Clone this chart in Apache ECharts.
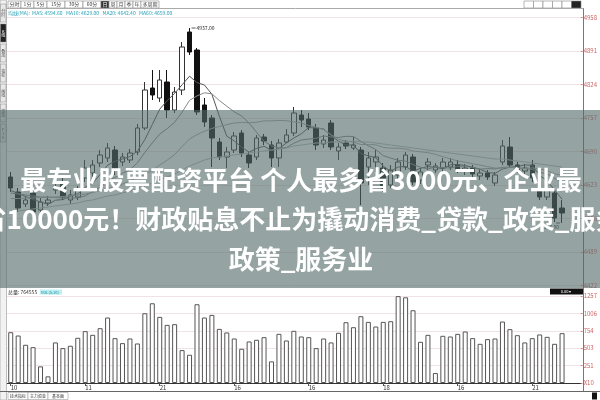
<!DOCTYPE html>
<html><head><meta charset="utf-8">
<script src="https://cdn.jsdelivr.net/npm/echarts@6/dist/echarts.min.js"></script>
<style>html,body{margin:0;padding:0;background:#fff}#c{width:600px;height:400px}</style>
</head><body><div id="c"></div>
<script>
// ---- data ----
const tickLabels = ['10','11','21','16','16','18','16','21'];
const openP = [4639,4609,4585,4607,4573,4587,4613,4627,4593,4599, 4637,4647,4667,4677,4693,4669,4673,4689,4737,4817, 4797,4829,4773,4813,4929,4893,4783,4757,4709,4679, 4693,4727,4683,4679,4719,4703,4677,4709,4727,4763, 4755,4737,4705,4747,4691,4707,4697,4693,4659,4669, 4657,4623,4643,4659,4679,4633,4663,4653,4657,4659, 4663,4653,4657,4641,4647,4627,4669,4699,4663,4651, 4663,4613,4599,4607,4577];
const closeP = [4617,4577,4593,4569,4589,4593,4619,4599,4603,4613, 4657,4663,4683,4697,4653,4679,4687,4737,4813,4803, 4833,4773,4809,4899,4889,4769,4749,4717,4679,4689, 4721,4687,4667,4717,4711,4677,4707,4723,4767,4753, 4739,4703,4713,4699,4699,4701,4703,4627,4677,4679, 4617,4653,4669,4683,4629,4649,4669,4661,4669,4669, 4653,4657,4645,4647,4639,4643,4701,4663,4653,4657, 4637,4599,4613,4557,4567];
const lowP = [4609,4569,4579,4561,4563,4581,4605,4593,4585,4593, 4629,4639,4659,4669,4643,4661,4667,4683,4733,4793, 4789,4757,4767,4803,4883,4763,4739,4659,4673,4657, 4687,4679,4657,4673,4703,4659,4659,4707,4721,4739, 4733,4693,4697,4693,4673,4695,4693,4583,4623,4649, 4609,4617,4633,4653,4623,4625,4653,4647,4649,4653, 4647,4643,4637,4633,4633,4621,4663,4657,4647,4645, 4629,4593,4593,4549,4547];
const highP = [4649,4617,4601,4613,4597,4601,4627,4637,4613,4621, 4673,4673,4693,4707,4701,4687,4695,4745,4829,4853, 4853,4853,4819,4909,4937,4897,4797,4763,4717,4699, 4729,4733,4689,4723,4725,4711,4715,4735,4779,4773, 4767,4745,4723,4753,4707,4713,4719,4699,4689,4693, 4667,4663,4677,4689,4685,4657,4677,4667,4677,4677, 4673,4665,4663,4653,4653,4649,4713,4719,4669,4665, 4673,4623,4621,4613,4593];
const volume = [734,686,552,518,240,96,586,504,538,653, 749,696,792,946,648,576,643,571,1008,1152, 955,840,850,475,408,1138,946,984,782,730, 643,494,600,624,662,312,710,614,754,672, 662,504,643,586,725,878,806,965,883,816, 883,893,1255,1238,1051,595,696,144,682,672, 710,744,648,566,634,643,888,778,691,586, 648,701,667,566,720];
const ma5 = [4612,4606,4600,4594,4589,4584.2,4592.6,4593.8,4600.6,4605.4, 4618.2,4627,4643.8,4662.6,4670.6,4675,4679.8,4690.6,4713.8,4743.8, 4774.6,4791.8,4806.2,4823.4,4840.6,4827.8,4823,4804.6,4760.6,4720.6, 4711,4698.6,4688.6,4696.2,4700.6,4691.8,4695.8,4707,4717,4725.4, 4737.8,4737,4735,4721.4,4710.6,4703,4703,4685.8,4681.4,4677.4, 4660.6,4650.6,4659,4660.2,4650.2,4656.6,4659.8,4658.2,4655.4,4663.4, 4664.2,4661.8,4658.6,4654.2,4648.2,4646.2,4655,4658.6,4659.8,4663.4, 4662.2,4641.8,4631.8,4612.6,4594.6];
const ma10 = [4607,4605,4603,4601,4599,4599,4598,4597,4597,4597.2, 4601.2,4609.8,4618.8,4631.6,4638,4646.6,4653.4,4667.2,4688.2,4707.2, 4724.8,4735.8,4748.4,4768.6,4792.2,4801.2,4807.4,4805.4,4792,4780.6, 4769.4,4760.8,4746.6,4728.4,4710.6,4701.4,4697.2,4697.8,4706.6,4713, 4714.8,4716.4,4721,4719.2,4718,4720.4,4720,4710.4,4701.4,4694, 4681.8,4676.8,4672.4,4670.8,4663.8,4658.6,4655.2,4658.6,4657.8,4656.8, 4660.4,4660.8,4658.4,4654.8,4655.8,4655.2,4658.4,4658.6,4657,4655.8, 4654.2,4648.4,4645.2,4636.2,4629];
const ma20 = [4596,4596,4597,4597,4598,4598,4599,4600,4601,4603, 4605,4608,4612,4616,4620,4625,4631,4638,4645,4652.2, 4663,4672.8,4683.6,4700,4715,4723.8,4730.4,4736.2,4740,4743.8, 4747,4748.2,4747.4,4748.4,4751.4,4751.2,4752.2,4751.6,4749.2,4746.8, 4742,4738.6,4733.8,4723.8,4714.2,4711,4708.6,4704,4704,4703.4, 4698.2,4696.6,4696.6,4695,4691,4689.4,4687.6,4684.4,4679.6,4675.4, 4671,4668.8,4665.4,4662.8,4659.8,4656.8,4656.8,4658.6,4657.4,4656.2, 4657.2,4654.6,4651.8,4645.4,4642.4];
const ma60 = [4569,4571,4573,4575,4577,4579,4581,4583,4585,4587, 4591,4593,4597,4601,4603,4607,4611,4615,4621,4627, 4633,4639,4645,4653,4661,4667,4673,4677,4679,4681, 4683,4685,4687,4689,4691,4693,4695,4697,4701,4703, 4705,4707,4707,4709,4709,4709,4711,4709,4709,4707, 4705,4703,4701,4699,4697,4695,4693,4691,4689,4687, 4685,4683,4681,4679,4677,4675,4675,4673,4671,4669, 4667,4665,4663,4661,4659];
const titleLines = ['最专业股票配资平台 个人最多省3000元、企业最', '省10000元！财政贴息不止为撬动消费_贷款_政策_服务', '政策_服务业'];
const topTabs = ['分时','1分','5分','15分','30分','60分','日','周','月','季','年','多周期'];
const sideTabs = ['分时','K线','叠加','指标','画线','资金','F10'];
const bottomTabs = ['技术指标','主力资金','基本面'];
const infoText = '均线(MA):  MA5: 4594.60   MA10: 4629.00   MA20: 4642.40   MA60: 4659.00';
const volText = '总量: 764555';

// ---- chart ----
const F = '"Noto Sans CJK SC","Noto Sans",sans-serif';
const N = 77;
const cats = Array.from({length: N}, (_, i) => String(i));
const candleData = openP.map((o, i) => [o, closeP[i], lowP[i], highP[i]]);
const hiIdx = highP.indexOf(Math.max(...highP));
const loIdx = lowP.indexOf(Math.min(...lowP));

const graphics = [];
// top toolbar
let tx = 8;
topTabs.forEach((t) => {
  const w = t.length * 5 + 3;
  const sel = t === '日';
  graphics.push({type:'rect', z:50, shape:{x:tx, y:1, width:w, height:7}, style:{fill: sel ? '#333' : '#fff', stroke:'#888', lineWidth:0.6}});
  graphics.push({type:'text', z:51, style:{text:t, x:tx + w/2, y:4.5, fill: sel ? '#fff' : '#444', font:'5px ' + F, textAlign:'center', textVerticalAlign:'middle'}});
  tx += w;
});
for (let k = 0; k < 6; k++) {
  graphics.push({type:'rect', z:50, shape:{x:524 + k*9.5, y:1, width:9.5, height:7}, style:{fill: k===5 ? '#222' : '#fff', stroke:'#888', lineWidth:0.6}});
}
graphics.push({type:'line', z:50, shape:{x1:7, y1:8.5, x2:584, y2:8.5}, style:{stroke:'#aaa', lineWidth:1}});
graphics.push({type:'text', z:50, style:{text:infoText, x:8, y:13, fill:'#2aa3b8', font:'5px ' + F, textVerticalAlign:'middle'}});
// left column
graphics.push({type:'rect', z:50, shape:{x:0, y:0, width:6.5, height:400}, style:{fill:'#f2f2f2', stroke:'#999', lineWidth:0.6}});
sideTabs.forEach((t, i) => {
  const y0 = 4 + i * 20;
  const sel = i === 1;
  graphics.push({type:'rect', z:51, shape:{x:0.5, y:y0, width:5.5, height:18}, style:{fill: sel ? '#222' : '#e8e8e8', stroke:'#888', lineWidth:0.5}});
  graphics.push({type:'text', z:52, style:{text:t.split('').join('\n'), x:3.2, y:y0 + 9, fill: sel ? '#fff' : '#555', font:'4px ' + F, textAlign:'center', textVerticalAlign:'middle'}});
});
// right vertical axis line
graphics.push({type:'line', z:50, shape:{x1:583.5, y1:8.5, x2:583.5, y2:391}, style:{stroke:'#777', lineWidth:1}});
// volume header
graphics.push({type:'text', z:50, style:{text:volText, x:8, y:292, fill:'#333', font:'5px ' + F, textVerticalAlign:'middle'}});
graphics.push({type:'rect', z:50, shape:{x:40, y:289.5, width:22, height:5}, style:{fill:'#bdeef0'}});
graphics.push({type:'text', z:51, style:{text:'VOL(5,10)', x:41, y:292, fill:'#1a8fa0', font:'4px ' + F, textVerticalAlign:'middle'}});
graphics.push({type:'rect', z:50, shape:{x:550, y:288.5, width:33, height:6}, style:{fill:'#111'}});
graphics.push({type:'text', z:51, style:{text:'0.00 ▾', x:566, y:291.5, fill:'#fff', font:'4px ' + F, textAlign:'center', textVerticalAlign:'middle'}});
// bottom tabs
graphics.push({type:'line', z:50, shape:{x1:0, y1:391.5, x2:600, y2:391.5}, style:{stroke:'#666', lineWidth:1}});
bottomTabs.forEach((t, i) => {
  graphics.push({type:'rect', z:50, shape:{x:8 + i*20, y:392.5, width:20, height:7}, style:{fill:'#fff', stroke:'#888', lineWidth:0.5}});
  graphics.push({type:'text', z:51, style:{text:t, x:18 + i*20, y:396, fill:'#333', font:'4px ' + F, textAlign:'center', textVerticalAlign:'middle'}});
});
graphics.push({type:'rect', z:50, shape:{x:592, y:392.5, width:5, height:7}, style:{fill:'#111'}});
// overlay banner
graphics.push({type:'rect', z:100, shape:{x:0, y:110, width:600, height:178}, style:{fill:'rgba(84,108,106,0.62)'}});
const lineY = [180, 219, 259];
titleLines.forEach((t, i) => {
  graphics.push({type:'text', z:101, style:{text:t, x:301, y:lineY[i], fill:'#fff', font:'bold 26px ' + F, textAlign:'center', textVerticalAlign:'middle'}});
});

const maStyle = (c) => ({type:'line', xAxisIndex:0, yAxisIndex:0, showSymbol:false, silent:true, lineStyle:{width:1, color:c}, itemStyle:{color:c}});

const option = {
  animation: false,
  backgroundColor: '#fff',
  grid: [
    {left:7, top:17.5, width:576.5, height:268},
    {left:7, top:296, width:576.5, height:87}
  ],
  xAxis: [
    {type:'category', gridIndex:0, data:cats, boundaryGap:true, axisLine:{show:false}, axisTick:{show:false}, axisLabel:{show:false}, splitLine:{show:false}},
    {type:'category', gridIndex:1, data:cats, boundaryGap:true,
     axisLine:{lineStyle:{color:'#333', width:1}},
     axisTick:{show:true, alignWithLabel:true, interval:(i) => i % 10 === 0, length:3, lineStyle:{color:'#555'}},
     axisLabel:{interval:(i) => i % 10 === 0, formatter:(v, i) => tickLabels[i / 10] || '', fontSize:6, color:'#333', margin:2, fontFamily:F, align:'left'},
     splitLine:{show:false}}
  ],
  yAxis: [
    {type:'value', gridIndex:0, position:'right', min:4422, max:4958, interval:67,
     axisLine:{show:false}, axisTick:{show:true, length:2, lineStyle:{color:'#c88'}},
     axisLabel:{fontSize:6, color:'#c66', margin:3, fontFamily:F, formatter:(v) => String(v)},
     splitLine:{lineStyle:{color:'#f1e3e3', width:1}}},
    {type:'value', gridIndex:1, position:'right', min:0, max:1257, interval:251.4,
     axisLine:{show:false}, axisTick:{show:true, length:2, lineStyle:{color:'#c88'}},
     axisLabel:{fontSize:6, color:'#c66', margin:3, fontFamily:F, formatter:(v) => v === 0 ? 'X10' : String(Math.round(v))},
     splitLine:{lineStyle:{color:'#f1e3e3', width:1}}}
  ],
  graphic: graphics,
  series: [
    {type:'candlestick', name:'K', xAxisIndex:0, yAxisIndex:0, data:candleData, barWidth:5,
     itemStyle:{color:'#fff', color0:'#111', borderColor:'#333', borderColor0:'#111', borderWidth:1},
     markPoint:{symbol:'rect', symbolSize:[4, 0.8], itemStyle:{color:'#333'}, silent:true,
       data:[
         {coord:[hiIdx, highP[hiIdx]], value:highP[hiIdx], symbolOffset:[4, 0], label:{show:true, position:'right', distance:1, formatter:(p) => p.value.toFixed(2), fontSize:5, color:'#222', fontFamily:F}},
         {coord:[loIdx, lowP[loIdx]], value:lowP[loIdx], symbolOffset:[-4, 0], label:{show:true, position:'bottom', distance:1, offset:[-8, 0], formatter:(p) => p.value.toFixed(2), fontSize:5, color:'#222', fontFamily:F}}
       ]}},
    Object.assign(maStyle('#555'), {name:'MA5', data:ma5}),
    Object.assign(maStyle('#888'), {name:'MA10', data:ma10}),
    Object.assign(maStyle('#aaa'), {name:'MA20', data:ma20}),
    Object.assign(maStyle('#bbb'), {name:'MA60', data:ma60}),
    {type:'bar', name:'VOL', xAxisIndex:1, yAxisIndex:1, data:volume, barWidth:5,
     itemStyle:{color:'#fff', borderColor:'#555', borderWidth:1}}
  ]
};
const chart = echarts.init(document.getElementById('c'));
chart.setOption(option);
</script>
</body></html>
